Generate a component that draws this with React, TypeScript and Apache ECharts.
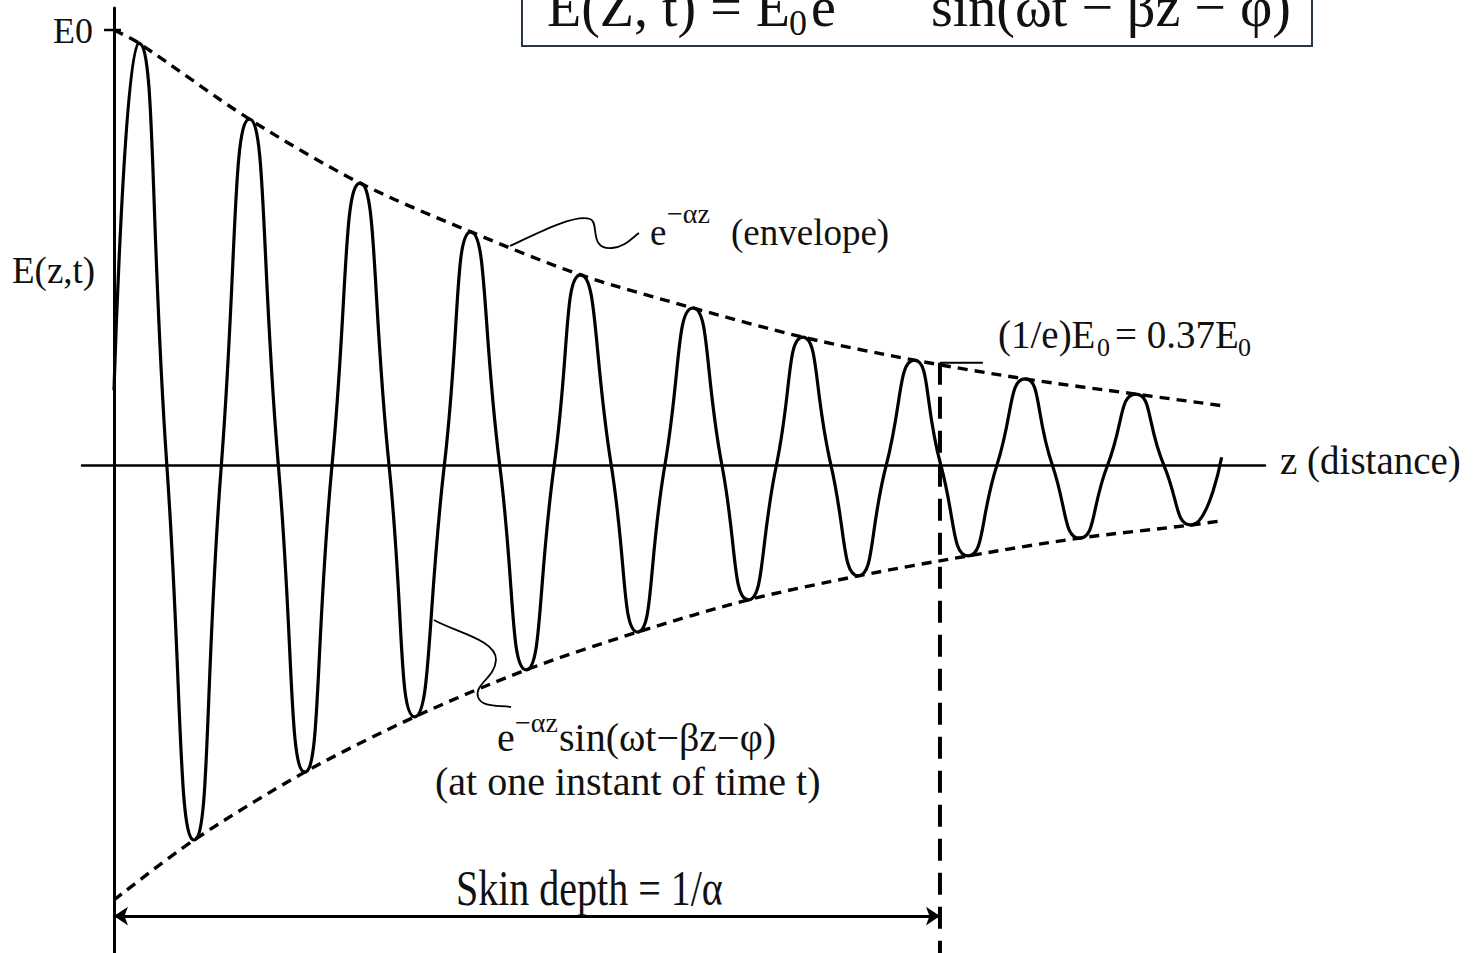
import React, { useEffect, useRef } from "react";
import * as echarts from "echarts";

// z measured in skin depths (1/α), E measured in units of E0
const waveZ = [0, 0.030, 0.064, 0.097, 0.130, 0.164, 0.199, 0.231, 0.264, 0.298, 0.333, 0.364, 0.400, 0.432, 0.467, 0.499, 0.533, 0.565, 0.602, 0.634, 0.667, 0.701, 0.736, 0.768, 0.802, 0.834, 0.868, 0.901, 0.935, 0.969, 1.001, 1.034, 1.069, 1.103, 1.136, 1.169, 1.203, 1.237, 1.271, 1.304, 1.341];
const waveE = [0.172, 0.970, 0, -0.862, 0, 0.795, 0, -0.706, 0, 0.648, 0, -0.579, 0, 0.536, 0, -0.471, 0, 0.437, 0, -0.384, 0, 0.361, 0, -0.310, 0, 0.294, 0, -0.255, 0, 0.241, 0, -0.209, 0, 0.198, 0, -0.168, 0, 0.163, 0, -0.138, 0.018];

const upperZ = [0, 0.030, 0.164, 0.298, 0.432, 0.565, 0.701, 0.834, 0.969, 1.103, 1.237, 1.343];
const upperE = [1.0, 0.970, 0.795, 0.648, 0.536, 0.437, 0.361, 0.294, 0.241, 0.198, 0.163, 0.136];

const lowerZ = [0, 0.097, 0.231, 0.364, 0.499, 0.634, 0.768, 0.901, 1.034, 1.169, 1.304, 1.338];
const lowerE = [-1.0, -0.862, -0.706, -0.579, -0.471, -0.384, -0.310, -0.255, -0.209, -0.168, -0.138, -0.129];

const SKIN_DEPTH = 1;
const SKIN_MARK_E = 0.235;
const ARROW_E = -1.037;
const E0 = 1;

const Z_MIN = -0.0387;
const Z_MAX = 1.3935;
const E_MIN = -1.1218;
const E_MAX = 1.0506;

const zip = (a: number[], b: number[]) => a.map((v, i) => [v, b[i]]);

export default function App() {
  const ref = useRef<HTMLDivElement>(null);
  useEffect(() => {
    const chart = echarts.init(ref.current!, null, { renderer: "svg" });
    const family = '"Liberation Serif", "Times New Roman", serif';
    const txt = (text: string, x: number, y: number, size: number, extra: any = {}) => ({
      type: "text",
      x,
      y,
      silent: true,
      style: {
        text,
        font: `${size}px ${family}`,
        fill: "#111",
        textAlign: "left",
        textVerticalAlign: "middle",
        verticalAlign: "middle",
      },
      ...extra,
    });
    const curve = (x1: number, y1: number, cpx1: number, cpy1: number, cpx2: number, cpy2: number, x2: number, y2: number) => ({
      type: "bezierCurve",
      silent: true,
      shape: { x1, y1, cpx1, cpy1, cpx2, cpy2, x2, y2 },
      style: { stroke: "#000", lineWidth: 1.8, fill: "none" },
    });

    chart.setOption({
      animation: false,
      backgroundColor: "#fff",
      grid: { left: 82, right: 215, top: 8, bottom: 0, containLabel: false, outerBoundsMode: "none" },
      xAxis: {
        type: "value",
        min: Z_MIN,
        max: Z_MAX,
        axisLine: { show: true, onZero: true, lineStyle: { color: "#000", width: 2.5 } },
        axisTick: { show: false },
        axisLabel: { show: false },
        splitLine: { show: false },
      },
      yAxis: {
        type: "value",
        min: E_MIN,
        max: E_MAX,
        axisLine: { show: true, onZero: true, lineStyle: { color: "#000", width: 3 } },
        axisTick: { show: false },
        axisLabel: { show: false },
        splitLine: { show: false },
      },
      series: [
        {
          type: "line",
          name: "wave",
          data: zip(waveZ, waveE),
          smooth: 0.58,
          symbol: "none",
          silent: true,
          lineStyle: { color: "#000", width: 3.2 },
        },
        {
          type: "line",
          name: "upper",
          data: zip(upperZ, upperE),
          smooth: 0.3,
          symbol: "none",
          silent: true,
          lineStyle: { color: "#000", width: 3.4, type: [10, 7] },
        },
        {
          type: "line",
          name: "lower",
          data: zip(lowerZ, lowerE),
          smooth: 0.3,
          symbol: "none",
          silent: true,
          lineStyle: { color: "#000", width: 3.4, type: [10, 7] },
        },
        {
          type: "line",
          name: "e0tick",
          data: [[-0.012, E0], [0.0085, E0]],
          symbol: "none",
          silent: true,
          lineStyle: { color: "#000", width: 2.5 },
        },
        {
          type: "line",
          name: "skinTop",
          data: [[SKIN_DEPTH, SKIN_MARK_E], [SKIN_DEPTH + 0.052, SKIN_MARK_E]],
          symbol: "none",
          silent: true,
          lineStyle: { color: "#000", width: 2 },
        },
        {
          type: "line",
          name: "skin",
          data: [[SKIN_DEPTH, SKIN_MARK_E], [SKIN_DEPTH, E_MIN]],
          symbol: "none",
          silent: true,
          lineStyle: { color: "#000", width: 4, type: [22, 12] },
          markLine: {
            silent: true,
            symbol: ["arrow", "arrow"],
            symbolSize: 14,
            label: { show: false },
            lineStyle: { color: "#000", width: 3, type: "solid" },
            data: [[{ coord: [0, ARROW_E] }, { coord: [SKIN_DEPTH, ARROW_E] }]],
          },
        },
      ],
      graphic: [
        {
          type: "rect",
          silent: true,
          shape: { x: 522, y: -10, width: 790, height: 56 },
          style: { stroke: "#2b3645", lineWidth: 2, fill: "none" },
        },
        txt("E(Z, t) = E", 547, 7, 56),
        txt("0", 789, 23, 36),
        txt("e", 811, 7, 56),
        txt("sin(ωt − βz − φ)", 931, 7, 56),
        txt("E0", 53, 31, 36),
        txt("E(z,t)", 12, 270, 37),
        txt("e", 650, 232, 37),
        txt("−αz", 667, 213, 28),
        txt("(envelope)", 731, 232, 37),
        txt("(1/e)E", 998, 334, 39),
        txt("0", 1097, 347, 26),
        txt("= 0.37E", 1115, 334, 39),
        txt("0", 1238, 347, 26),
        txt("z (distance)", 1280, 460, 39),
        txt("e", 497, 737, 40),
        txt("−αz", 515, 722, 28),
        txt("sin(ωt−βz−φ)", 559, 737, 40),
        txt("(at one instant of time t)", 435, 781, 40),
        txt("Skin depth = 1/α", 456, 888, 50, { scaleX: 0.8 }),
        curve(510, 246, 540, 232, 575, 214, 590, 219),
        curve(590, 219, 600, 222, 588, 250, 612, 248),
        curve(612, 248, 625, 247, 632, 238, 639, 233),
        curve(434, 620, 455, 632, 497, 640, 496, 660),
        curve(496, 660, 495, 678, 474, 684, 478, 697),
        curve(478, 697, 482, 708, 500, 705, 511, 707),
      ],
    });
    return () => chart.dispose();
  }, []);
  return (
    <div
      ref={ref}
      style={{ position: "absolute", left: 0, top: 0, width: 1480, height: 953, background: "#fff" }}
    />
  );
}
